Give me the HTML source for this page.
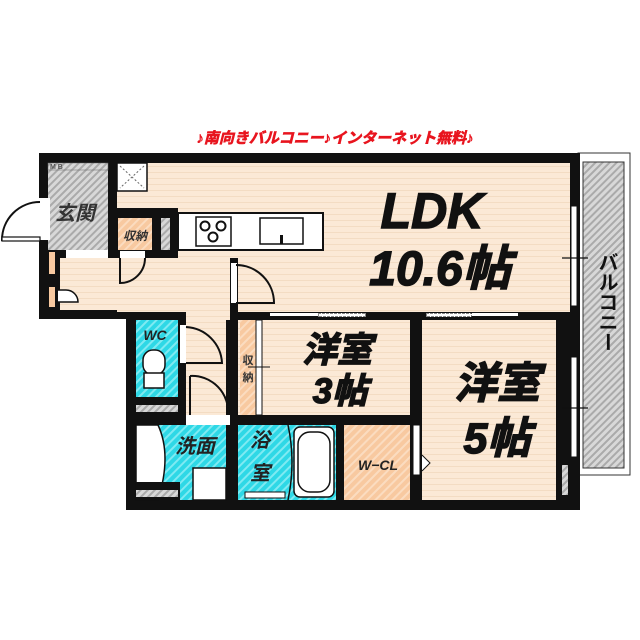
<!DOCTYPE html>
<html><head><meta charset="utf-8"><style>
html,body{margin:0;padding:0;background:#fff;width:640px;height:640px;overflow:hidden}
svg{display:block}
text{font-family:"Liberation Sans","Noto Sans CJK JP",sans-serif;font-weight:bold}
.big{stroke:#111;stroke-width:1.5}
</style></head><body>
<svg width="640" height="640" viewBox="0 0 640 640" xmlns="http://www.w3.org/2000/svg">
<defs>
<pattern id="stripe" width="6" height="6" patternUnits="userSpaceOnUse"><rect width="6" height="6" fill="#fbe9d6"/><rect y="4" width="6" height="1" fill="#f3dcc3"/></pattern>
<pattern id="gh" width="5" height="5" patternUnits="userSpaceOnUse" patternTransform="rotate(45)"><rect width="5" height="5" fill="#d8d8d8"/><rect width="2" height="5" fill="#aaa"/></pattern>
<pattern id="cy" width="6" height="6" patternUnits="userSpaceOnUse" patternTransform="rotate(45)"><rect width="6" height="6" fill="#2ed8e6"/><rect width="2" height="6" fill="#7feaf2"/></pattern>
<pattern id="pk" width="6" height="6" patternUnits="userSpaceOnUse" patternTransform="rotate(45)"><rect width="6" height="6" fill="#f8c9a0"/><rect width="2" height="6" fill="#fbdcc0"/></pattern>
</defs>
<text x="335" y="143" font-size="15" fill="#e8141e" stroke="#e8141e" stroke-width="0.6" text-anchor="middle" font-style="italic">♪南向きバルコニー♪インターネット無料♪</text>
<!-- balcony -->
<rect x="578" y="153" width="52" height="322" fill="#fff" stroke="#333" stroke-width="1"/>
<rect x="583" y="162" width="41" height="306" fill="url(#gh)" stroke="#333" stroke-width="1"/>
<!-- walls base -->
<path d="M39 153 H580 V510 H126 V319 H39 Z" fill="#111"/>
<!-- floors -->
<rect x="117" y="163" width="453" height="149" fill="url(#stripe)"/>
<rect x="50" y="258" width="180" height="52" fill="url(#stripe)"/>
<rect x="186" y="310" width="44" height="105" fill="url(#stripe)"/>
<rect x="238" y="320" width="172" height="95" fill="url(#stripe)"/>
<rect x="422" y="320" width="134" height="180" fill="url(#stripe)"/>
<rect x="556" y="460" width="14" height="40" fill="#111"/>
<rect x="562" y="465" width="6" height="30" fill="url(#gh)"/>
<!-- genkan -->
<rect x="48" y="163" width="60" height="87" fill="url(#gh)"/>
<rect x="48" y="163" width="60" height="7" fill="url(#gh)" stroke="#666" stroke-width=".5"/>
<text x="50" y="169" font-size="7" fill="#555">M B</text>
<rect x="66" y="250" width="42" height="8" fill="#fff"/>
<!-- kitchen area -->
<rect x="117" y="208" width="61" height="50" fill="#111"/>
<rect x="118" y="218" width="34" height="32" fill="url(#pk)"/>
<rect x="161" y="218" width="9" height="32" fill="url(#gh)"/>
<rect x="178" y="213" width="145" height="37" fill="#fff" stroke="#111" stroke-width="2"/>
<rect x="196" y="217" width="35" height="29" fill="#fff" stroke="#111" stroke-width="1.5"/>
<circle cx="205" cy="226" r="4.5" fill="none" stroke="#111" stroke-width="2"/><circle cx="221" cy="226" r="4.5" fill="none" stroke="#111" stroke-width="2"/><circle cx="213" cy="237" r="4.5" fill="none" stroke="#111" stroke-width="2"/>
<rect x="260" y="218" width="43" height="26" fill="#fff" stroke="#111" stroke-width="1.5"/>
<rect x="280" y="235" width="3" height="9" fill="#111"/>
<rect x="117" y="163" width="30" height="28" fill="#fff" stroke="#111" stroke-width="1.5"/>
<path d="M120 166 L144 188 M144 166 L120 188" stroke="#666" stroke-dasharray="2 2"/>
<!-- hall left storage -->
<rect x="50" y="250" width="10" height="60" fill="#111"/>
<rect x="49" y="252" width="6" height="22" fill="#f8c9a0"/>
<rect x="49" y="287" width="6" height="20" fill="#f8c9a0"/>
<path d="M58 290 h8 a12 12 0 0 1 12 12 h-20" fill="#fff" stroke="#111" stroke-width="1.5"/>
<!-- entrance door -->
<rect x="39" y="198" width="11" height="42" fill="#fff"/>
<path d="M40 240 H2 A38 38 0 0 1 40 202" fill="none" stroke="#111" stroke-width="2"/>
<rect x="2" y="237" width="38" height="4" fill="#fff" stroke="#111" stroke-width="1.2"/>
<!-- LDK/hall wall & door -->
<rect x="230" y="258" width="8" height="62" fill="#111"/>
<rect x="231" y="263" width="6" height="40" fill="#fff"/>
<path d="M236 265 A38 38 0 0 1 274 303 H236" fill="none" stroke="#111" stroke-width="2"/>
<path d="M120 258 V283 A25 25 0 0 0 145 258" fill="none" stroke="#111" stroke-width="2"/>
<rect x="120" y="251" width="25" height="7" fill="#fff"/>
<!-- wall under LDK -->
<rect x="230" y="312" width="350" height="8" fill="#111"/>
<rect x="318" y="313" width="48" height="4" fill="#fff" stroke="#111" stroke-dasharray="3 1"/>
<rect x="426" y="313" width="46" height="4" fill="#fff" stroke="#111" stroke-dasharray="3 1"/>
<rect x="270" y="313" width="48" height="3" fill="#fff"/><rect x="472" y="313" width="46" height="3" fill="#fff"/>
<!-- balcony windows -->
<rect x="571" y="206" width="6" height="100" fill="#fff" stroke="#111"/>
<rect x="571" y="357" width="6" height="100" fill="#fff" stroke="#111"/>
<path d="M562 258 H588 M562 408 H588" stroke="#111" stroke-width="1.2"/>
<!-- 3帖 storage -->
<rect x="240" y="320" width="16" height="95" fill="url(#pk)"/>
<rect x="256" y="320" width="6" height="95" fill="#fff" stroke="#111" stroke-width="1"/>
<path d="M248 367 H270" stroke="#111"/>
<!-- dividing walls -->
<rect x="410" y="320" width="12" height="190" fill="#111"/>
<rect x="226" y="415" width="196" height="10" fill="#111"/>
<rect x="226" y="320" width="12" height="190" fill="#111"/>
<rect x="413" y="425" width="7" height="50" fill="#fff" stroke="#111"/>
<path d="M422 455 l8 8 l-8 8" fill="#fff" stroke="#111"/>
<!-- W-CL -->
<rect x="344" y="425" width="66" height="75" fill="url(#pk)"/>
<text x="378" y="470" font-size="14" fill="#222" font-style="italic" text-anchor="middle">W−CL</text>
<rect x="336" y="425" width="8" height="85" fill="#111"/>
<!-- bath -->
<rect x="238" y="425" width="98" height="75" fill="url(#cy)"/>
<rect x="294" y="427" width="40" height="70" rx="6" fill="#fff" stroke="#111" stroke-width="1.5"/>
<rect x="298" y="432" width="32" height="60" rx="12" fill="#fff" stroke="#111" stroke-width="1.5"/>
<path d="M288 425 Q296 462 288 500" fill="none" stroke="#111" stroke-width="1.5"/>
<rect x="245" y="492" width="40" height="6" fill="#fff" stroke="#111"/>
<text x="260" y="447" font-size="20" fill="#222" font-style="italic" text-anchor="middle">浴</text>
<text x="260" y="480" font-size="20" fill="#222" font-style="italic" text-anchor="middle">室</text>
<!-- WC -->
<rect x="136" y="320" width="42" height="77" fill="url(#cy)"/>
<rect x="178" y="320" width="8" height="95" fill="#111"/>
<rect x="180" y="325" width="6" height="38" fill="#fff"/>
<path d="M186 327 A38 38 0 0 1 222 363 H186" fill="none" stroke="#111" stroke-width="2"/>
<path d="M190 376 A36 36 0 0 1 228 415 M190 376 V415" fill="none" stroke="#111" stroke-width="2"/>
<rect x="143" y="350" width="22" height="25" rx="10" fill="#fff" stroke="#111" stroke-width="1.5"/>
<rect x="144" y="373" width="20" height="15" fill="#fff" stroke="#111" stroke-width="1.5"/>
<text x="155" y="340" font-size="14" fill="#222" font-style="italic" text-anchor="middle">WC</text>
<rect x="136" y="397" width="42" height="18" fill="#111"/>
<rect x="136" y="405" width="42" height="7" fill="url(#gh)"/>
<!-- wash -->
<rect x="136" y="425" width="90" height="75" fill="url(#cy)"/>
<rect x="186" y="415" width="44" height="10" fill="#fff"/>
<path d="M136 425 H158 Q172 455 158 500 H136 Z" fill="#fff" stroke="#111" stroke-width="1.5"/>
<rect x="193" y="468" width="33" height="32" fill="#fff" stroke="#111" stroke-width="1.5"/>
<rect x="136" y="482" width="44" height="18" fill="#111"/>
<rect x="136" y="490" width="42" height="7" fill="url(#gh)"/>
<text x="195" y="453" font-size="20" fill="#222" font-style="italic" text-anchor="middle">洗面</text>
<!-- labels -->
<text x="75" y="220" font-size="20" fill="#333" font-style="italic" text-anchor="middle">玄関</text>
<text x="135" y="240" font-size="12" fill="#333" font-style="italic" text-anchor="middle">収納</text>
<text x="248" y="364" font-size="11" fill="#333" text-anchor="middle">収</text>
<text x="248" y="381" font-size="11" fill="#333" text-anchor="middle">納</text>
<text class="big" x="432" y="228" font-size="50" fill="#111" font-style="italic" text-anchor="middle">LDK</text>
<text class="big" x="440" y="285" font-size="48" fill="#111" font-style="italic" text-anchor="middle">10.6帖</text>
<text class="big" x="337" y="362" font-size="35" fill="#111" font-style="italic" text-anchor="middle">洋室</text>
<text class="big" x="340" y="403" font-size="35" fill="#111" font-style="italic" text-anchor="middle">3帖</text>
<text class="big" x="497" y="398" font-size="43" fill="#111" font-style="italic" text-anchor="middle">洋室</text>
<text class="big" x="497" y="453" font-size="43" fill="#111" font-style="italic" text-anchor="middle">5帖</text>
<text x="606" y="252" font-size="20" fill="#111" writing-mode="tb" glyph-orientation-vertical="0">バルコニー</text>
</svg>
</body></html>
